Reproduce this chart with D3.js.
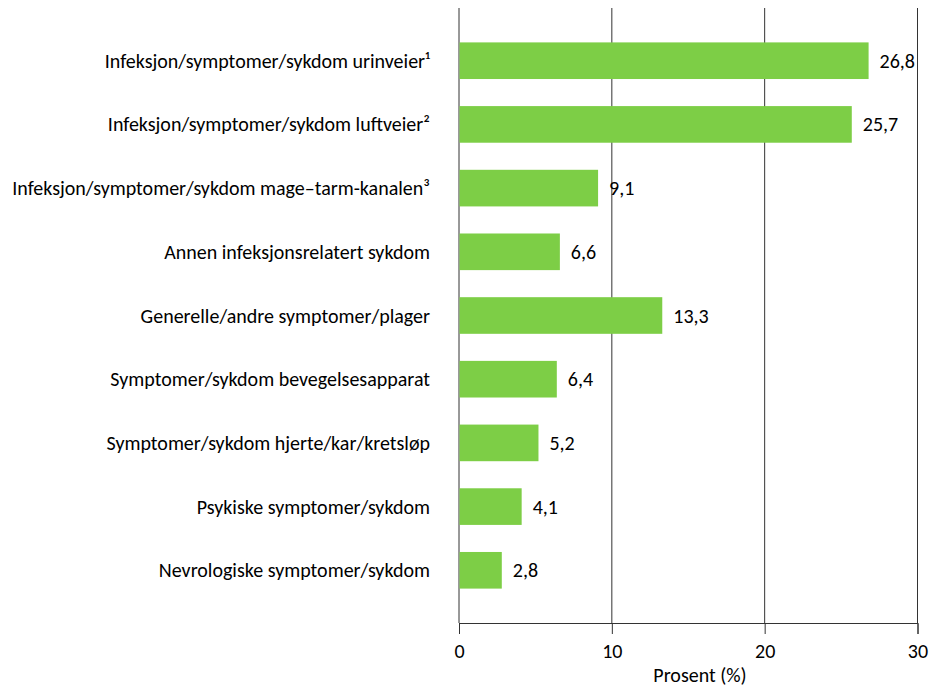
<!DOCTYPE html>
<html>
<head>
<meta charset="utf-8">
<script src="https://cdn.jsdelivr.net/npm/d3@7"></script>
<style>
  html, body { margin: 0; padding: 0; background: #fff; }
  svg { display: block; }
  text { font-family: Carlito, Lato, "Open Sans", sans-serif; fill: #000; }
</style>
</head>
<body>
<svg id="chart" width="930" height="687"></svg>
<script>
const categories = [
  "Infeksjon/symptomer/sykdom urinveier¹",
  "Infeksjon/symptomer/sykdom luftveier²",
  "Infeksjon/symptomer/sykdom mage–tarm-kanalen³",
  "Annen infeksjonsrelatert sykdom",
  "Generelle/andre symptomer/plager",
  "Symptomer/sykdom bevegelsesapparat",
  "Symptomer/sykdom hjerte/kar/kretsløp",
  "Psykiske symptomer/sykdom",
  "Nevrologiske symptomer/sykdom"
];
const values = [26.8, 25.7, 9.1, 6.6, 13.3, 6.4, 5.2, 4.1, 2.8];
const xTicks = [0, 10, 20, 30];
const xTitle = "Prosent (%)";

const svg = d3.select("#chart");
const mLeft = 459, mRight = 917.5, mTop = 8, mBottom = 623;
const fs = 20;

const x = d3.scaleLinear().domain([0, 30]).range([mLeft, mRight]);
const y = d3.scaleBand().domain(categories).range([mTop, mBottom])
  .paddingInner(0.425).paddingOuter(0.54);

const fmt = v => d3.format(".1f")(v).replace(".", ",");

// gridlines (vertical)
svg.append("g").selectAll("line").data(xTicks).join("line")
  .attr("x1", d => x(d)).attr("x2", d => x(d))
  .attr("y1", mTop).attr("y2", mBottom)
  .attr("stroke", "#333").attr("stroke-width", 1);

// bars
svg.append("g").selectAll("rect").data(values).join("rect")
  .attr("x", x(0) + 0.5)
  .attr("y", (d, i) => y(categories[i]))
  .attr("width", d => x(d) - x(0) - 0.5)
  .attr("height", y.bandwidth())
  .attr("fill", "#7dce46");

// x axis
const xAxis = d3.axisBottom(x).tickValues(xTicks).tickSize(11).tickPadding(10)
  .tickFormat(d3.format("d"));
const gx = svg.append("g").attr("transform", `translate(0,${mBottom})`).call(xAxis);
gx.select(".domain").attr("stroke", "#333");
gx.selectAll(".tick line").attr("stroke", "#333");
gx.selectAll(".tick text").attr("font-size", fs).attr("fill", "#000");
gx.attr("font-family", null).attr("font-size", null);

svg.append("text")
  .attr("x", 700).attr("y", 682)
  .attr("text-anchor", "middle")
  .attr("font-size", fs)
  .text(xTitle);

// category labels
svg.append("g").selectAll("text").data(categories).join("text")
  .attr("x", 430)
  .attr("y", d => y(d) + y.bandwidth() / 2)
  .attr("dy", "0.35em")
  .attr("text-anchor", "end")
  .attr("font-size", fs)
  .text(d => d);

// value labels
svg.append("g").selectAll("text").data(values).join("text")
  .attr("x", d => x(d) + 11)
  .attr("y", (d, i) => y(categories[i]) + y.bandwidth() / 2)
  .attr("dy", "0.35em")
  .attr("font-size", fs)
  .text(d => fmt(d));
</script>
</body>
</html>
